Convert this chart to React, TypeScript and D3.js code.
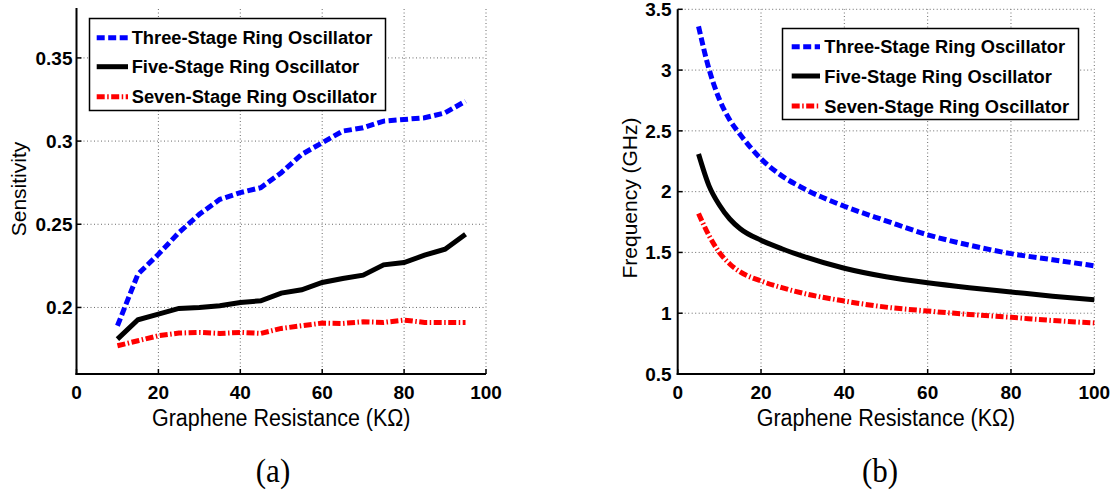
import React from "react";
import * as d3 from "d3";

// Panel (a): sensitivity vs graphene resistance
const sensR = [10, 15, 20, 25, 30, 35, 40, 45, 50, 55, 60, 65, 70, 75, 80, 85, 90, 95];
const sensThree = [0.189, 0.22, 0.232, 0.245, 0.256, 0.265, 0.269, 0.272, 0.281, 0.292, 0.299, 0.306, 0.308, 0.312, 0.313, 0.314, 0.317, 0.324];
const sensFive = [0.181, 0.1926, 0.196, 0.1994, 0.2, 0.201, 0.203, 0.204, 0.2086, 0.2106, 0.215, 0.2174, 0.2194, 0.2256, 0.227, 0.2314, 0.235, 0.244];
const sensSeven = [0.177, 0.18, 0.183, 0.1846, 0.185, 0.1844, 0.185, 0.1844, 0.1874, 0.189, 0.1906, 0.1904, 0.1914, 0.191, 0.1924, 0.191, 0.191, 0.191];

// Panel (b): oscillation frequency vs graphene resistance
const freqR = [5, 7.5, 10, 12.5, 15, 20, 25, 30, 40, 50, 60, 70, 80, 90, 100];
const freqThree = [3.36, 3.01, 2.76, 2.59, 2.47, 2.27, 2.13, 2.03, 1.88, 1.76, 1.645, 1.56, 1.49, 1.44, 1.39];
const freqFive = [2.31, 2.05, 1.89, 1.775, 1.695, 1.6, 1.53, 1.47, 1.37, 1.3, 1.25, 1.21, 1.175, 1.14, 1.11];
const freqSeven = [1.82, 1.64, 1.5, 1.405, 1.34, 1.265, 1.21, 1.165, 1.1, 1.05, 1.018, 0.99, 0.966, 0.94, 0.92];

const xTicks = [0, 20, 40, 60, 80, 100];
const sensTicks = [0.2, 0.25, 0.3, 0.35];
const freqTicks = [0.5, 1, 1.5, 2, 2.5, 3, 3.5];

const seriesNames = ["Three-Stage Ring Oscillator", "Five-Stage Ring Oscillator", "Seven-Stage Ring Oscillator"];

const styles = [
  { color: "#0000ff", dash: "8,3.5" },
  { color: "#000000", dash: "none" },
  { color: "#ff0000", dash: "8,2.5,1.5,2.5" },
];

const SANS = "'Liberation Sans', Arial, Helvetica, sans-serif";
const SERIF = "'Liberation Serif', 'Times New Roman', serif";

type PanelProps = {
  xRange: [number, number];
  yDomain: [number, number];
  yRange: [number, number];
  yTicks: number[];
  xs: number[];
  series: number[][];
  yLabel: string;
  yLabelX: number;
  yLabelY: number;
  tickGap: number;
  legend: { x: number; y: number; w: number; h: number; rows: number[]; sx0: number; sx1: number; tx: number };
  smooth: boolean;
};

function Panel(p: PanelProps) {
  const x = d3.scaleLinear().domain([0, 100]).range(p.xRange);
  const y = d3.scaleLinear().domain(p.yDomain).range(p.yRange);
  const [x0, x1] = p.xRange;
  const [yb, yt] = p.yRange;
  const line = d3
    .line<number>()
    .x((_, i) => x(p.xs[i]))
    .y((d) => y(d))
    .curve(p.smooth ? d3.curveMonotoneX : d3.curveLinear);

  return (
    <g>
      {/* grid */}
      {xTicks.filter((t) => t > 0).map((t) => (
        <line key={"gx" + t} x1={x(t)} x2={x(t)} y1={yb} y2={yt} stroke="#6a6a6a" strokeWidth={1} strokeDasharray="1,2.5" />
      ))}
      {p.yTicks.filter((t) => y(t) < yb - 1).map((t) => (
        <line key={"gy" + t} x1={x0} x2={x1} y1={y(t)} y2={y(t)} stroke="#6a6a6a" strokeWidth={1} strokeDasharray="1,2.5" />
      ))}
      {/* axes */}
      <line x1={x0} x2={x0} y1={yb + 1} y2={yt} stroke="#000" strokeWidth={2} />
      <line x1={x0 - 1} x2={x1} y1={yb} y2={yb} stroke="#000" strokeWidth={2} />
      {xTicks.map((t) => (
        <line key={"tx" + t} x1={x(t)} x2={x(t)} y1={yb} y2={yb - 5} stroke="#000" strokeWidth={1.5} />
      ))}
      {p.yTicks.map((t) => (
        <line key={"ty" + t} x1={x0} x2={x0 + 5} y1={y(t)} y2={y(t)} stroke="#000" strokeWidth={1.5} />
      ))}
      {/* tick labels */}
      {xTicks.map((t) => (
        <text key={"lx" + t} x={x(t)} y={399} textAnchor="middle" fontFamily={SANS} fontWeight="bold" fontSize={19}>
          {String(t)}
        </text>
      ))}
      {p.yTicks.map((t) => (
        <text key={"ly" + t} x={x0 - p.tickGap} y={y(t)} dy="0.36em" textAnchor="end" fontFamily={SANS} fontWeight="bold" fontSize={19}>
          {String(t)}
        </text>
      ))}
      {/* axis titles */}
      <text
        transform={`translate(${(x0 + x1) / 2},426) scale(1,1.15)`}
        textAnchor="middle"
        fontFamily={SANS}
        fontSize={21.5}
      >
        Graphene Resistance (KΩ)
      </text>
      <text
        transform={`translate(${p.yLabelX},${p.yLabelY}) rotate(-90)`}
        textAnchor="middle"
        dy="0.36em"
        fontFamily={SANS}
        fontSize={21}
      >
        {p.yLabel}
      </text>
      {/* curves */}
      {p.series.map((s, i) => (
        <path key={"s" + i} d={line(s) || ""} fill="none" stroke={styles[i].color} strokeWidth={5} strokeDasharray={styles[i].dash} />
      ))}
      {/* legend */}
      <rect x={p.legend.x} y={p.legend.y} width={p.legend.w} height={p.legend.h} fill="#fff" stroke="#000" strokeWidth={1.5} />
      {seriesNames.map((n, i) => (
        <g key={"lg" + i}>
          <line
            x1={p.legend.sx0}
            x2={p.legend.sx1}
            y1={p.legend.rows[i]}
            y2={p.legend.rows[i]}
            stroke={styles[i].color}
            strokeWidth={5}
            strokeDasharray={styles[i].dash}
          />
          <text x={p.legend.tx} y={p.legend.rows[i]} dy="0.36em" fontFamily={SANS} fontWeight="bold" fontSize={18.3}>
            {n}
          </text>
        </g>
      ))}
    </g>
  );
}

export default function App() {
  return (
    <svg width={1113} height={496} style={{ position: "absolute", left: 0, top: 0, background: "#fff" }}>
      <rect width={1113} height={496} fill="#fff" />
      <Panel
        xRange={[76.5, 486]}
        yDomain={[0.16, 0.38]}
        yRange={[374, 8]}
        yTicks={sensTicks}
        xs={sensR}
        series={[sensThree, sensFive, sensSeven]}
        yLabel="Sensitivity"
        yLabelX={18}
        yLabelY={189}
        tickGap={4}
        legend={{ x: 89.5, y: 18.5, w: 296, h: 92, rows: [37.7, 66.7, 96.7], sx0: 96.7, sx1: 128, tx: 131.7 }}
        smooth={false}
      />
      <Panel
        xRange={[677.7, 1094.3]}
        yDomain={[0.5, 3.5]}
        yRange={[374, 9.3]}
        yTicks={freqTicks}
        xs={freqR}
        series={[freqThree, freqFive, freqSeven]}
        yLabel="Frequency (GHz)"
        yLabelX={629}
        yLabelY={198}
        tickGap={6}
        legend={{ x: 782.5, y: 28.5, w: 296, h: 91, rows: [46.7, 76, 106], sx0: 791.7, sx1: 820, tx: 824.3 }}
        smooth={true}
      />
      <text transform="translate(273,482) scale(1,1.1)" textAnchor="middle" fontFamily={SERIF} fontSize={31}>
        (a)
      </text>
      <text transform="translate(880,482) scale(1,1.1)" textAnchor="middle" fontFamily={SERIF} fontSize={31}>
        (b)
      </text>
    </svg>
  );
}
